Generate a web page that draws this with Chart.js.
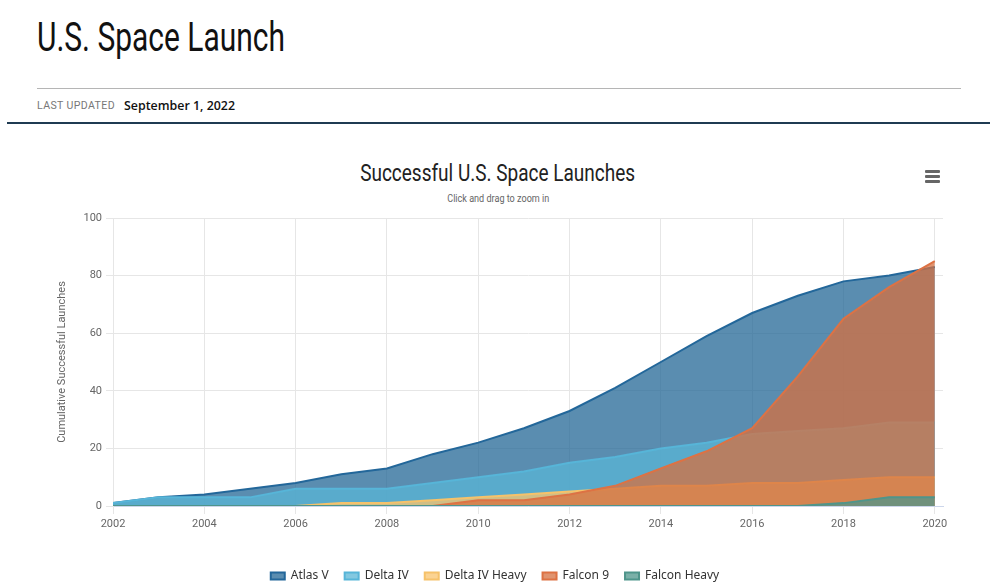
<!DOCTYPE html>
<html>
<head>
<meta charset="utf-8">
<script src="https://cdn.jsdelivr.net/npm/chart.js@4/dist/chart.umd.min.js"></script>
<style>
  html,body{margin:0;padding:0;background:#fff;width:990px;height:587px;overflow:hidden;font-family:Roboto,"Noto Sans",sans-serif;}
  .abs{position:absolute;white-space:nowrap;}
  #h1{left:37px;top:14px;font-size:40px;color:#111;transform-origin:0 0;}
  #rule1{left:37px;top:88px;width:924px;height:1px;background:#b5b5b5;}
  #lu{left:37px;top:99px;font-size:11px;letter-spacing:0.4px;color:#777;transform-origin:0 0;}
  #date{left:124px;top:96px;font-size:13px;font-family:"Open Sans",Roboto,sans-serif;font-weight:600;color:#111;transform-origin:0 0;}
  #rule2{left:7px;top:122px;width:983px;height:2px;background:#1f3b52;}
  #ctitle{left:498px;top:159px;font-size:24px;color:#222;transform-origin:50% 0;}
  #csub{left:498px;top:193px;font-size:10px;color:#666;transform-origin:50% 0;}
  .bar{position:absolute;left:925px;width:15px;height:3px;background:#666;border-radius:1px;}
  #wrap{position:absolute;left:0;top:205px;width:990px;height:387px;}
</style>
</head>
<body>
<div class="abs" id="h1">U.S. Space Launch</div>
<div class="abs" id="rule1"></div>
<div class="abs" id="lu">LAST UPDATED</div>
<div class="abs" id="date">September 1, 2022</div>
<div class="abs" id="rule2"></div>
<div class="abs" id="ctitle">Successful U.S. Space Launches</div>
<div class="abs" id="csub">Click and drag to zoom in</div>
<div class="bar" style="top:170px"></div>
<div class="bar" style="top:175px"></div>
<div class="bar" style="top:180px"></div>
<div id="wrap"><canvas id="c"></canvas></div>
<script>
// ---- data ----
const years = [2002,2003,2004,2005,2006,2007,2008,2009,2010,2011,2012,2013,2014,2015,2016,2017,2018,2019,2020];
const atlasV = [1,3,4,6,8,11,13,18,22,27,33,41,50,59,67,73,78,80,83];
const deltaIV = [1,3,3,3,6,6,6,8,10,12,15,17,20,22,25,26,27,29,29];
const deltaIVHeavy = [0,0,0,0,0,1,1,2,3,4,5,6,7,7,8,8,9,10,10];
const falcon9 = [0,0,0,0,0,0,0,0,2,2,4,7,13,19,27,45,65,76,85];
const falconHeavy = [0,0,0,0,0,0,0,0,0,0,0,0,0,0,0,0,1,3,3];
const seriesNames = ['Atlas V','Delta IV','Delta IV Heavy','Falcon 9','Falcon Heavy'];
const yTicks = [0,20,40,60,80,100];
const xTicks = [2002,2004,2006,2008,2010,2012,2014,2016,2018,2020];

// ---- text fitting for condensed headings ----
function fitX(id, target, origin){
  const el = document.getElementById(id);
  const w = el.getBoundingClientRect().width;
  const k = target / w;
  if (origin === 'center') {
    el.style.left = (parseFloat(getComputedStyle(el).left) - w/2) + 'px';
  }
  el.style.transform = 'scaleX(' + k + ')';
}
fitX('h1', 248);
fitX('ctitle', 275, 'center');
fitX('csub', 102, 'center');
fitX('lu', 78);
fitX('date', 111);

const lineCols = ['#23679a','#57b5d8','#f6c26a','#dd7244','#4f958b'];
const fillCols = ['rgba(35,103,150,0.75)','rgba(90,182,214,0.75)','rgba(250,196,110,0.75)','rgba(214,112,64,0.75)','rgba(79,149,139,0.75)'];
const allVals = [atlasV, deltaIV, deltaIVHeavy, falcon9, falconHeavy];

const datasets = allVals.map((vals, i) => ({
  label: seriesNames[i],
  data: years.map((yr, j) => ({x: yr, y: vals[j]})),
  borderColor: lineCols[i],
  backgroundColor: fillCols[i],
  borderWidth: 2,
  fill: 'origin',
  pointRadius: 0,
  tension: 0,
  order: 5 - i
}));

const tickFont = {family: 'Roboto, sans-serif', size: 11};

new Chart(document.getElementById('c'), {
  type: 'line',
  data: { datasets },
  options: {
    responsive: true,
    maintainAspectRatio: false,
    animation: false,
    layout: { padding: { left: 47, right: 47, top: 13, bottom: 0 } },
    plugins: {
      legend: {
        position: 'bottom',
        labels: {
          sort: (a, b) => a.datasetIndex - b.datasetIndex,
          boxWidth: 14,
          boxHeight: 7,
          padding: 16,
          color: '#333',
          font: {family: '"Noto Sans", sans-serif', size: 12}
        }
      },
      tooltip: { enabled: false }
    },
    scales: {
      x: {
        type: 'linear',
        min: 2002,
        max: 2020.18,
        afterBuildTicks: s => { s.ticks = xTicks.map(v => ({value: v})); },
        afterFit: s => { s.height = 48; },
        ticks: { color: '#666', font: tickFont, padding: 4, callback: v => String(v), maxRotation: 0 },
        grid: { color: '#e6e6e6', tickLength: 8, tickColor: '#e6e6e6' },
        border: { color: '#ccd6eb' }
      },
      y: {
        min: 0,
        max: 100,
        afterBuildTicks: s => { s.ticks = yTicks.map(v => ({value: v})); },
        afterFit: s => { s.width = 66; },
        ticks: { color: '#666', font: tickFont, padding: 4 },
        grid: { color: '#e6e6e6', tickLength: 7 },
        border: { color: '#e6e6e6' },
        title: {
          display: true,
          text: 'Cumulative Successful Launches',
          color: '#666',
          font: {family: 'Roboto, sans-serif', size: 11},
          padding: { top: 9, bottom: 0 }
        }
      }
    }
  }
});
</script>
</body>
</html>
